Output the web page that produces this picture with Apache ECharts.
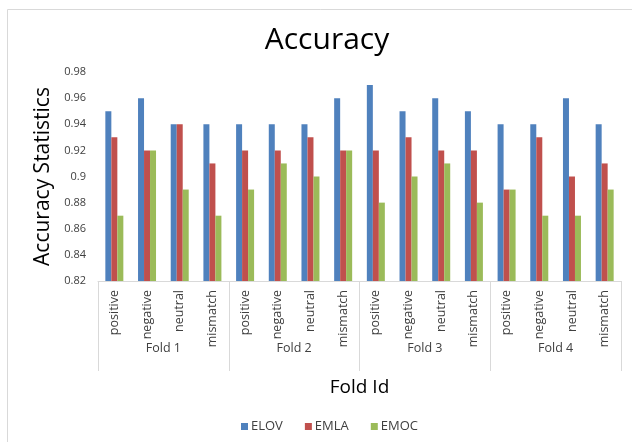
<!DOCTYPE html>
<html>
<head>
<meta charset="utf-8">
<script src="https://cdn.jsdelivr.net/npm/echarts@6/dist/echarts.min.js"></script>
<style>
  html, body { margin: 0; padding: 0; background: #ffffff; }
  #chart { width: 632px; height: 442px; }
</style>
</head>
<body>
<div id="chart"></div>
<script>
// Sentiment classes within each fold, and the folds themselves
const classes = ['positive', 'negative', 'neutral', 'mismatch'];
const folds = ['Fold 1', 'Fold 2', 'Fold 3', 'Fold 4'];

// Accuracy per (fold, class), fold-major order
const elov = [0.95, 0.96, 0.94, 0.94,  0.94, 0.94, 0.94, 0.96,  0.97, 0.95, 0.96, 0.95,  0.94, 0.94, 0.96, 0.94];
const emla = [0.93, 0.92, 0.94, 0.91,  0.92, 0.92, 0.93, 0.92,  0.92, 0.93, 0.92, 0.92,  0.89, 0.93, 0.90, 0.91];
const emoc = [0.87, 0.92, 0.89, 0.87,  0.89, 0.91, 0.90, 0.92,  0.88, 0.90, 0.91, 0.88,  0.89, 0.87, 0.87, 0.89];

const yTicks = { min: 0.82, max: 0.98, step: 0.02 };

const categories = [];
folds.forEach(() => classes.forEach(c => categories.push(c)));

const FONT = '"Open Sans", "Noto Sans", sans-serif';
const TEXT = '#404040';
const RULE = '#d9d9d9';

const chart = echarts.init(document.getElementById('chart'), null, { renderer: 'canvas' });

function bars(name, data, color) {
  return {
    name, type: 'bar', data, xAxisIndex: 0,
    barWidth: 6, barGap: '0%',
    itemStyle: { color },
    emphasis: { disabled: true }
  };
}

chart.setOption({
  animation: false,
  textStyle: { fontFamily: FONT },
  title: {
    text: 'Accuracy', left: 322, top: 20, textAlign: 'center',
    textStyle: { fontFamily: FONT, fontSize: 30, fontWeight: 'normal', color: '#000' }
  },
  graphic: [{
    type: 'rect', silent: true,
    shape: { x: 7.5, y: 9.5, width: 700, height: 500 },
    style: { fill: 'none', stroke: RULE, lineWidth: 1 }
  }],
  legend: {
    bottom: 4, left: 236,
    itemWidth: 7, itemHeight: 7, itemGap: 22,
    icon: 'rect',
    textStyle: { fontFamily: FONT, fontSize: 13, color: TEXT, padding: [0, 0, 0, -2] },
    data: ['ELOV', 'EMLA', 'EMOC']
  },
  grid: { left: 98, right: 11, top: 72, bottom: 161, containLabel: false },
  xAxis: [
    {
      type: 'category', data: categories, position: 'bottom',
      axisLine: { show: true, lineStyle: { color: RULE } },
      axisTick: { show: false },
      axisLabel: { rotate: 90, margin: 9, fontSize: 12.5, color: TEXT, fontFamily: FONT, interval: 0 }
    },
    {
      type: 'category', data: folds, position: 'bottom',
      name: 'Fold Id', nameLocation: 'middle', nameGap: 97,
      nameTextStyle: { fontSize: 19, color: '#000', fontFamily: FONT },
      axisLine: { show: false },
      axisTick: { show: true, length: 90, lineStyle: { color: RULE } },
      axisLabel: { margin: 61, fontSize: 12.5, color: TEXT, fontFamily: FONT }
    }
  ],
  yAxis: {
    type: 'value', min: yTicks.min, max: yTicks.max, interval: yTicks.step,
    name: 'Accuracy Statistics', nameLocation: 'middle', nameGap: 42,
    nameTextStyle: { fontSize: 21, color: '#000', fontFamily: FONT },
    axisLine: { show: false }, axisTick: { show: false },
    splitLine: { show: false },
    axisLabel: {
      fontSize: 11, color: TEXT, fontFamily: FONT, margin: 12,
      formatter: v => String(parseFloat(v.toFixed(2)))
    }
  },
  series: [
    bars('ELOV', elov, '#4F81BD'),
    bars('EMLA', emla, '#C0504D'),
    bars('EMOC', emoc, '#9BBB59')
  ]
});
</script>
</body>
</html>
